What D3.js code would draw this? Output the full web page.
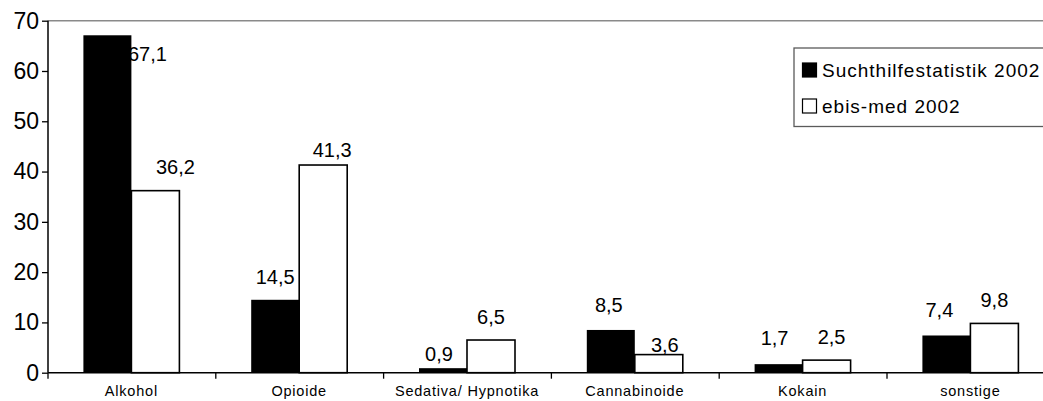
<!DOCTYPE html>
<html>
<head>
<meta charset="utf-8">
<script src="https://cdn.jsdelivr.net/npm/d3@7"></script>
<style>
  html, body { margin: 0; padding: 0; background: #fff; }
  svg { display: block; font-family: "Liberation Sans", Arial, sans-serif; }
</style>
</head>
<body>
<svg id="chart" width="1043" height="401"></svg>
<script>
// Categories and the two series (percent shares)
const categories = ["Alkohol", "Opioide", "Sedativa/ Hypnotika", "Cannabinoide", "Kokain", "sonstige"];
const seriesNames = ["Suchthilfestatistik 2002", "ebis-med 2002"];
const suchthilfe = [67.1, 14.5, 0.9, 8.5, 1.7, 7.4];
const ebisMed = [36.2, 41.3, 6.5, 3.6, 2.5, 9.8];
const yTicks = [0, 10, 20, 30, 40, 50, 60, 70];

// Label placement tweaks (dx, dy in px) for value labels that sit off their bar's centre
const labelNudge = {
  "Alkohol|0": [40, 42], "Alkohol|1": [20, -1],
  "Opioide|1": [9, 8],
  "Sedativa/ Hypnotika|0": [-4, 9],
  "Cannabinoide|0": [-2, -2], "Cannabinoide|1": [6, 13],
  "Kokain|0": [-4, -3], "Kokain|1": [5, 0],
  "sonstige|0": [-7, -2]
};

const fills = ["#000000", "#ffffff"];
const svg = d3.select("#chart");

const plot = { left: 48, top: 20.7, bottom: 372.7, step: 167.8 };
const plotRight = plot.left + plot.step * categories.length;

const y = d3.scaleLinear().domain([0, 70]).range([plot.bottom, plot.top]);
const pad = 1 - 96 / plot.step;
const x0 = d3.scaleBand().domain(categories)
  .range([plot.left - 0.5, plotRight - 0.5])
  .paddingInner(pad).paddingOuter(pad / 2);
const x1 = d3.scaleBand().domain([0, 1]).range([0, x0.bandwidth()]);

const rows = categories.map((c, i) => ({ cat: c, vals: [suchthilfe[i], ebisMed[i]] }));

// Top border of the plot area
svg.append("line")
  .attr("x1", plot.left).attr("x2", 1043)
  .attr("y1", plot.top).attr("y2", plot.top)
  .attr("stroke", "#8a8a8a").attr("stroke-width", 1.5);

// Bars
const groups = svg.append("g").selectAll("g").data(rows).join("g")
  .attr("transform", d => `translate(${x0(d.cat)},0)`);

groups.selectAll("rect").data(d => d.vals.map((v, k) => ({ cat: d.cat, k, v })))
  .join("rect")
  .attr("x", d => x1(d.k))
  .attr("y", d => y(d.v))
  .attr("width", x1.bandwidth())
  .attr("height", d => y(0) - y(d.v))
  .attr("fill", d => fills[d.k])
  .attr("stroke", "#000")
  .attr("stroke-width", d => d.k === 1 ? 1.6 : 0);

// Value labels (German decimal comma)
const fmt = v => d3.format(".1f")(v).replace(".", ",");
groups.selectAll("text").data(d => d.vals.map((v, k) => ({ cat: d.cat, k, v })))
  .join("text")
  .attr("x", d => x1(d.k) + x1.bandwidth() / 2 + (labelNudge[d.cat + "|" + d.k] || [0, 0])[0])
  .attr("y", d => y(d.v) - 16 + (labelNudge[d.cat + "|" + d.k] || [0, 0])[1])
  .attr("text-anchor", "middle")
  .attr("font-size", 20)
  .attr("fill", "#000")
  .text(d => fmt(d.v));

// Y axis
const yAxis = d3.axisLeft(y).tickValues(yTicks).tickSize(6).tickPadding(3).tickFormat(d3.format("d"));
const gy = svg.append("g").attr("transform", `translate(${plot.left},0)`).call(yAxis);
gy.select(".domain").attr("stroke", "#000").attr("stroke-width", 1.5).attr("d", `M0,${plot.top}V${plot.bottom}`);
gy.selectAll(".tick line").attr("stroke", "#000").attr("stroke-width", 1.3);
gy.selectAll(".tick text").attr("font-size", 23).attr("fill", "#000")
  .attr("font-family", "'Liberation Sans', Arial, sans-serif");

// X axis: line with ticks at category boundaries
const xAxisG = svg.append("g");
xAxisG.append("line")
  .attr("x1", plot.left).attr("x2", 1043)
  .attr("y1", plot.bottom).attr("y2", plot.bottom)
  .attr("stroke", "#000").attr("stroke-width", 1.5);
const boundaries = d3.range(categories.length + 1).map(i => plot.left + i * plot.step);
xAxisG.selectAll("line.tk").data(boundaries).join("line").attr("class", "tk")
  .attr("x1", d => d).attr("x2", d => d)
  .attr("y1", plot.bottom).attr("y2", plot.bottom + 6)
  .attr("stroke", "#000").attr("stroke-width", 1.3);
xAxisG.selectAll("text").data(categories).join("text")
  .attr("x", d => x0(d) + x0.bandwidth() / 2)
  .attr("y", 396)
  .attr("text-anchor", "middle")
  .attr("font-size", 14.5)
  .attr("letter-spacing", "0.8px")
  .attr("fill", "#000")
  .text(d => d);

// Legend
const legend = svg.append("g");
legend.append("rect")
  .attr("x", 794).attr("y", 48).attr("width", 300).attr("height", 78.5)
  .attr("fill", "#fff").attr("stroke", "#5a5a5a").attr("stroke-width", 1.3);
const items = legend.selectAll("g.item").data(seriesNames).join("g").attr("class", "item")
  .attr("transform", (d, i) => `translate(0,${i * 36})`);
items.append("rect")
  .attr("x", 802.5).attr("y", 63).attr("width", 14).attr("height", 14)
  .attr("fill", (d, i) => fills[i]).attr("stroke", "#000").attr("stroke-width", 1.2);
items.append("text")
  .attr("x", 822).attr("y", 77)
  .attr("font-size", 19)
  .attr("letter-spacing", "1px")
  .attr("fill", "#000")
  .text(d => d);
</script>
</body>
</html>
